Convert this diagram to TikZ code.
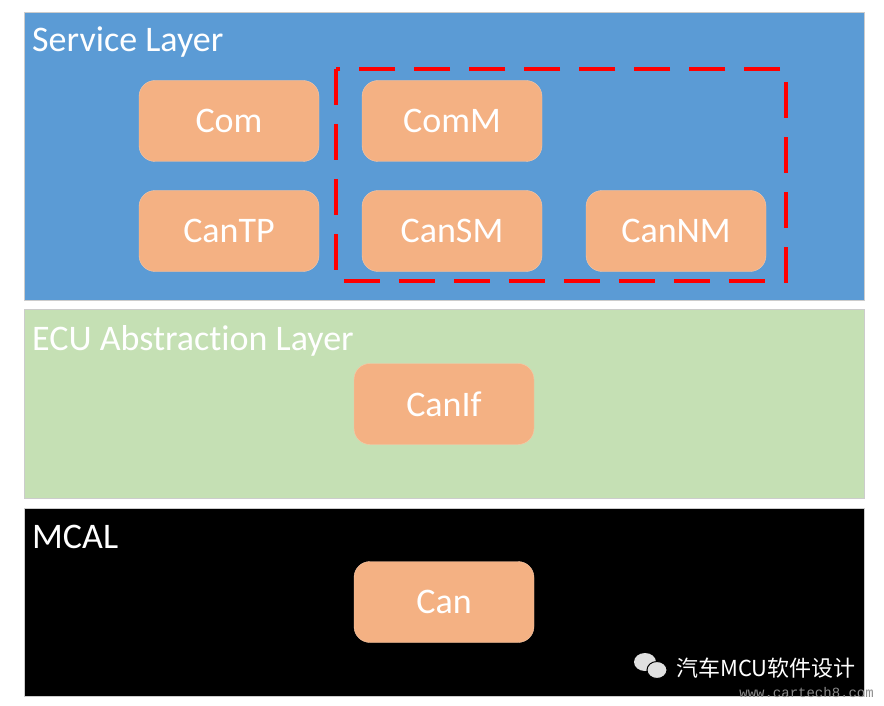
\documentclass[tikz,border=0pt]{standalone}
\usepackage{fontspec}
\setmainfont[RawFeature={-liga;-clig;-calt;-dlig}]{Carlito}
\setmonofont{Liberation Mono}
\newfontfamily\cjk{Noto Sans CJK SC}
\usepackage{xcolor}
\usepackage{tikz}
\usetikzlibrary{positioning,calc,shadows}

\definecolor{svcblue}{HTML}{5B9BD5}
\definecolor{ecugreen}{HTML}{C5E0B4}
\definecolor{modorange}{HTML}{F4B183}

\tikzset{
    layer/.style={draw=black!20, line width=0.8pt},
    layertitle/.style={anchor=base west, inner sep=0pt, text=white, font=\fontsize{36}{40}\selectfont},
    modbox/.style={rectangle, rounded corners=16pt, fill=modorange, draw=modorange!70!white,
        minimum width=180pt, minimum height=81pt, text=white, font=\fontsize{36}{40}\selectfont},
}

\begin{document}
\begin{tikzpicture}[x=1pt,y=-1pt]
    \useasboundingbox (0,0) rectangle (884,706);
    \fill[white] (0,0) rectangle (884,706);

    % layers
    \draw[layer, fill=svcblue] (24,12) rectangle (864,300);
    \draw[layer, fill=ecugreen] (24,309) rectangle (864,498);
    \draw[layer, fill=black] (24,508) rectangle (864,696);
    \node[layertitle] (svc) at (32,52) {Service Layer};
    \node[layertitle] (ecu) at (32,350) {ECU Abstraction Layer};
    \node[layertitle] (mcal) at (32,548) {MCAL};

    % modules
    \node[modbox] (com) at (229,121) {Com};
    \node[modbox] (cantp) at (229,231) {CanTP};
    \node[modbox] (comm) at (452,121) {ComM};
    \node[modbox] (cansm) at (452,231) {CanSM};
    \node[modbox] (cannm) at (676,231) {CanNM};
    \node[modbox] (canif) at (444,404) {CanIf};
    \node[modbox] (can) at (444,602) {Can};

    % state management group
    \draw[red, line width=3.5pt, dash pattern=on 36pt off 19pt] (336,69) rectangle (786,281);

    % watermark
    \fill[black!12] (645,662) ellipse (11pt and 9pt);
    \fill[black!12, draw=black, line width=1pt] (657,670) ellipse (10pt and 8.5pt);
    \node[anchor=base west, inner sep=0pt, text=white, font=\cjk\fontsize{22}{24}\selectfont] (wmark) at (676,676) {汽车MCU软件设计};
    \node[anchor=base east, inner sep=0pt, text=black!45, font=\ttfamily\fontsize{14}{16}\selectfont] (wsite) at (874,697) {www.cartech8.com};
\end{tikzpicture}
\end{document}
